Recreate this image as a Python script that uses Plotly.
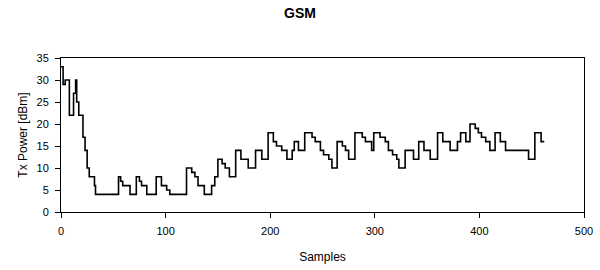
import plotly.graph_objects as go

# Change points of the stepped Tx power trace (sample index, dBm)
samples = [0, 2, 4, 8, 12, 14, 15, 17, 21, 23, 25, 27, 32, 33,
           55, 57, 59, 66, 72, 75, 77, 82, 91, 96, 101, 104,
           120, 125, 128, 131, 137, 144, 147, 150, 154, 157, 161, 167,
           172, 179, 186, 192, 198, 203, 206, 211, 216, 221, 223, 227,
           233, 240, 243, 248, 251, 256, 259, 264, 269, 272, 275, 281,
           288, 291, 297, 299, 305, 310, 313, 317, 321, 323, 329, 337,
           342, 347, 353, 360, 365, 372, 379, 382, 387, 391, 396, 399,
           402, 406, 410, 415, 420, 425, 447, 453, 459, 462]
tx_power = [33, 29, 30, 22, 27, 30, 25, 22, 17, 14, 10, 8, 6, 4,
            8, 7, 6, 4, 8, 7, 6, 4, 8, 6, 5, 4,
            10, 9, 8, 6, 4, 6, 8, 12, 11, 10, 8, 14,
            12, 10, 14, 12, 18, 16, 15, 14, 12, 14, 16, 14,
            18, 17, 16, 14, 13, 12, 10, 16, 15, 14, 12, 18,
            17, 16, 14, 18, 17, 16, 14, 13, 12, 10, 14, 12,
            16, 14, 12, 18, 16, 14, 16, 18, 16, 20, 19, 18,
            17, 16, 14, 18, 16, 14, 12, 18, 16, 16]

x_ticks = [0, 100, 200, 300, 400, 500]
y_ticks = [0, 5, 10, 15, 20, 25, 30, 35]

FONT = "Liberation Sans, Arial, sans-serif"

fig = go.Figure()
fig.add_trace(go.Scatter(
    x=samples, y=tx_power, mode="lines", line_shape="hv",
    line=dict(color="black", width=1.6), showlegend=False,
))

axis_common = dict(
    showline=True, linecolor="black", linewidth=1, mirror=True,
    ticks="outside", ticklen=5, tickcolor="black", tickwidth=1,
    showgrid=False, zeroline=False, automargin=False,
    tickfont=dict(family=FONT, size=11, color="black"),
)

fig.update_layout(
    width=600, height=270,
    margin=dict(l=61, r=16, t=58, b=58),
    paper_bgcolor="white", plot_bgcolor="white",
    title=dict(text="<b>GSM</b>", x=0.5, xanchor="center", y=0.95, yanchor="middle",
               font=dict(family=FONT, size=14, color="black")),
    xaxis=dict(range=[0, 500], tickvals=x_ticks, ticklabelstandoff=4,
               title=dict(text="Samples", standoff=16,
                          font=dict(family=FONT, size=12, color="black")),
               **axis_common),
    yaxis=dict(range=[0, 35], tickvals=y_ticks, ticklabelstandoff=4,
               title=dict(text="Tx Power [dBm]", standoff=6,
                          font=dict(family=FONT, size=12, color="black")),
               **axis_common),
)

fig.write_html("out.html")
